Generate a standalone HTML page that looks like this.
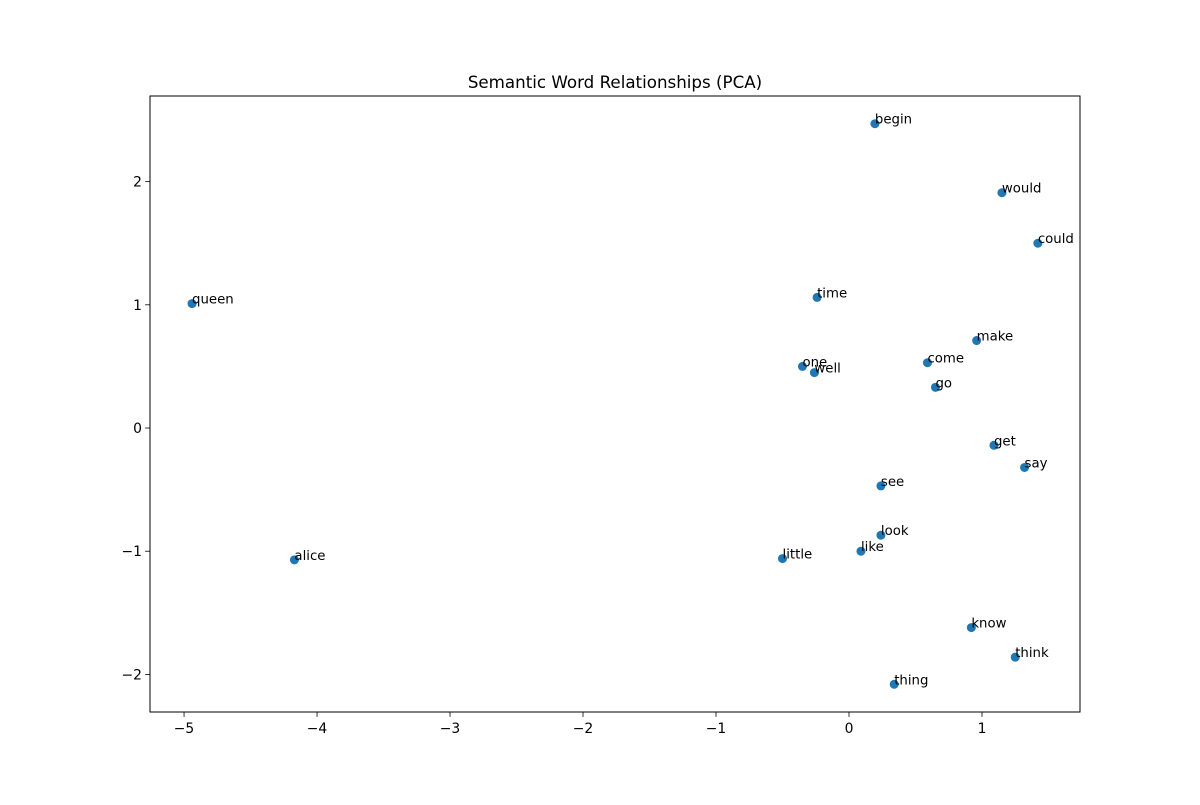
<!DOCTYPE html>
<html><head><meta charset="utf-8"><style>
body{margin:0;background:#fff;}
svg text{font-family:"DejaVu Sans","Liberation Sans",sans-serif;fill:#000;}
</style></head><body>
<svg id="chart" width="1200" height="800" xmlns="http://www.w3.org/2000/svg">
<rect width="1200" height="800" fill="#fff"/>
<text x="615" y="88" text-anchor="middle" font-size="16.7">Semantic Word Relationships (PCA)</text>
<g id="ticks"></g>
<g id="points"></g>
<rect x="150" y="96" width="930" height="616" fill="none" stroke="#000" stroke-width="1"/>
</svg>
<script>
const words=["begin","would","could","queen","time","make","come","one","well","go","get","say","see","look","like","little","alice","know","think","thing"];
const xs=[0.195,1.15,1.42,-4.94,-0.24,0.96,0.59,-0.35,-0.26,0.65,1.09,1.32,0.24,0.24,0.09,-0.50,-4.17,0.92,1.25,0.34];
const ys=[2.47,1.91,1.50,1.01,1.06,0.71,0.53,0.50,0.45,0.33,-0.14,-0.32,-0.47,-0.87,-1.00,-1.06,-1.07,-1.62,-1.86,-2.08];
const xTicks=[-5,-4,-3,-2,-1,0,1];
const yTicks=[-2,-1,0,1,2];
const X0=150,X1=1080,Y0=96,Y1=712,xmin=-5.256,xmax=1.737,ymin=-2.305,ymax=2.695;
const sx=v=>X0+(v-xmin)/(xmax-xmin)*(X1-X0);
const sy=v=>Y1-(v-ymin)/(ymax-ymin)*(Y1-Y0);
const NS="http://www.w3.org/2000/svg";
const tg=document.getElementById('ticks'),pg=document.getElementById('points');
function mk(tag,attrs,parent){const e=document.createElementNS(NS,tag);for(const k in attrs)e.setAttribute(k,attrs[k]);parent.appendChild(e);return e;}
xTicks.forEach(t=>{const x=sx(t);
 const l=mk('line',{x1:x,x2:x,y1:Y1,y2:Y1+4.9,stroke:'#000','stroke-width':0.8},tg);
 
 
 const s=mk('text',{x:x,y:Y1+21,'text-anchor':'middle','font-size':13.9},tg);
 s.textContent=t<0?'\u2212'+(-t):t;
 
 });
yTicks.forEach(t=>{const y=sy(t);
 const l=mk('line',{x1:X0-4.9,x2:X0,y1:y,y2:y,stroke:'#000','stroke-width':0.8},tg);
 
 
 const s=mk('text',{x:X0-8,y:y+5,'text-anchor':'end','font-size':13.9},tg);
 s.textContent=t<0?'\u2212'+(-t):t;
 
 });
words.forEach((w,i)=>{const x=sx(xs[i]),y=sy(ys[i]);
 const c=mk('circle',{cx:x,cy:y,r:4.5,fill:'#1f77b4'},pg);
 
 
 const t=mk('text',{x:x,y:y,'font-size':13.3},pg);
 t.textContent=w;
 
 });
</script>
</body></html>
